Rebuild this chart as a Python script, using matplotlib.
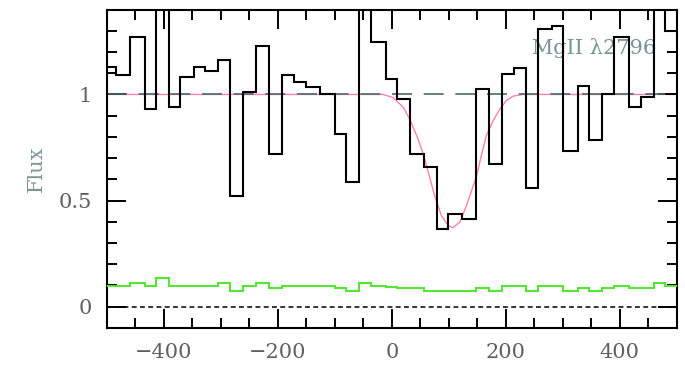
import matplotlib

matplotlib.use("Agg")
import matplotlib.pyplot as plt  # noqa: E402
from matplotlib.ticker import MultipleLocator  # noqa: E402

COLOR_DATA = "#000000"
COLOR_ERR = "#55e633"
COLOR_MODEL = "#ff80b0"
COLOR_CONT = "#4d6b66"
COLOR_LABEL = "#7a9692"
COLOR_TICKLBL = "#606060"

# velocity bin edges (km/s) and normalised flux per bin
vel_edges = [-520, -484, -460, -433, -414, -391, -372, -347, -327, -305,
             -284, -261, -239, -215, -193, -171, -150, -126, -100, -81,
             -57, -37, -11, 9, 32, 57, 80, 99, 123, 147,
             171, 194, 214, 236, 257, 281, 301, 327, 346, 369,
             390, 416, 437, 460, 480, 520]
flux = [1.13, 1.09, 1.27, 0.93, 1.55, 0.94, 1.08, 1.13, 1.11, 1.16,
        0.52, 1.01, 1.23, 0.72, 1.09, 1.06, 1.035, 1.0, 0.815, 0.587,
        1.6, 1.247, 1.074, 0.98, 0.72, 0.657, 0.366, 0.437, 0.414, 1.027,
        0.673, 1.098, 1.124, 0.558, 1.31, 1.322, 0.733, 1.04, 0.783, 1.0,
        1.27, 0.94, 0.99, 1.5, 1.30]
flux_err = [0.099, 0.099, 0.11, 0.099, 0.135, 0.099, 0.099, 0.099, 0.099, 0.11,
            0.073, 0.099, 0.11, 0.087, 0.099, 0.099, 0.099, 0.099, 0.087, 0.073,
            0.11, 0.099, 0.093, 0.087, 0.087, 0.073, 0.073, 0.073, 0.073, 0.087,
            0.073, 0.099, 0.099, 0.073, 0.099, 0.099, 0.073, 0.087, 0.073, 0.087,
            0.099, 0.087, 0.087, 0.11, 0.099]

# fitted absorption profile
model_vel = [-520, -15, 2, 20, 32, 46, 55, 64, 75, 87, 99, 107, 119, 131,
             140, 149, 157, 166, 178, 190, 201, 213, 230, 520]
model_flux = [1.0, 1.0, 0.985, 0.94, 0.88, 0.79, 0.72, 0.634, 0.524, 0.429,
              0.382, 0.372, 0.398, 0.476, 0.547, 0.618, 0.712, 0.807, 0.877,
              0.933, 0.972, 0.992, 1.0, 1.0]

plt.rcParams["font.family"] = ["DejaVu Serif"]

fig = plt.figure(figsize=(6.85, 3.66), dpi=100)
ax = fig.add_axes([0.156, 0.104, 0.832, 0.870])

ax.plot(model_vel, model_flux, color=COLOR_MODEL, lw=1.0, zorder=1)
ax.axhline(1.0, color=COLOR_CONT, lw=1.2, ls=(0, (12, 7)), zorder=2)
ax.axhline(0.0, color="black", lw=1.1, ls=(0, (3.2, 2.2)), zorder=2)
ax.stairs(flux_err, vel_edges, baseline=None, color=COLOR_ERR, lw=1.5, zorder=3)
ax.stairs(flux, vel_edges, baseline=None, color=COLOR_DATA, lw=1.5, zorder=4)

ax.text(0.855, 0.88, "MgII λ2796", transform=ax.transAxes,
        ha="center", va="center", fontsize=15, color=COLOR_LABEL)

ax.set_xlim(-500, 500)
ax.set_ylim(-0.1, 1.4)
ax.xaxis.set_major_locator(MultipleLocator(200))
ax.xaxis.set_minor_locator(MultipleLocator(50))
ax.yaxis.set_major_locator(MultipleLocator(0.5))
ax.yaxis.set_minor_locator(MultipleLocator(0.1))
ax.yaxis.set_major_formatter(lambda v, _: f"{v:g}")
ax.tick_params(which="both", direction="in", top=True, right=True, width=1.4,
               labelsize=15, labelcolor=COLOR_TICKLBL, pad=11)
ax.tick_params(which="major", length=13.5)
ax.tick_params(which="minor", length=7)
for sp in ax.spines.values():
    sp.set_linewidth(1.5)

ax.set_ylabel("Flux", fontsize=15, color=COLOR_LABEL, labelpad=9)

fig.savefig("out.png", dpi=100)
